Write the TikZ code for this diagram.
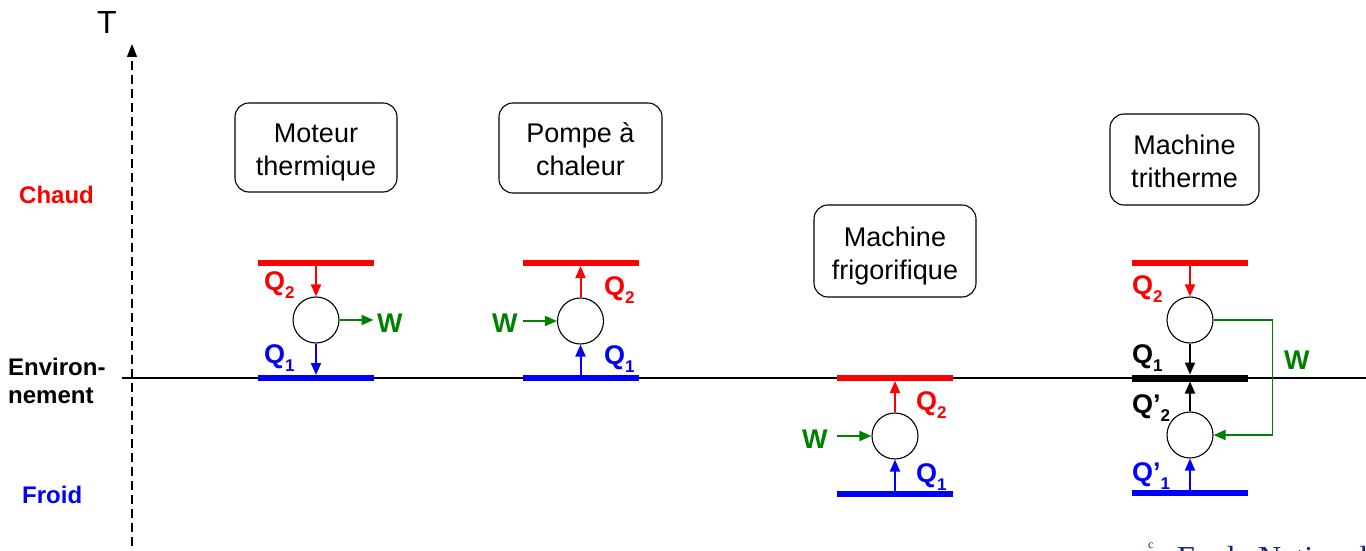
\documentclass[tikz,border=0pt]{standalone}
\usepackage{fontspec}
\setmainfont{Liberation Sans}
\newfontfamily\seriffont{Liberation Serif}
\usetikzlibrary{arrows.meta}

\definecolor{hot}{RGB}{255,0,0}
\definecolor{cold}{RGB}{0,0,255}
\definecolor{work}{RGB}{0,128,0}
\definecolor{credit}{RGB}{25,30,120}

% heat label with a lowered index, e.g. \Qlab{}{2} or \Qlab{'}{1}
\newcommand{\Qlab}[2]{Q#1\raisebox{-8pt}{\fontsize{17}{17}\selectfont #2}}

\tikzset{
  machine/.style={draw, line width=1.1pt, rounded corners=14pt, inner sep=0},
  title/.style={align=center, font=\fontsize{27}{33}\selectfont, inner sep=0},
  cycle/.style={draw, circle, line width=1.1pt, minimum size=46pt, inner sep=0},
  reservoir/.style={minimum width=116pt, minimum height=6pt, inner sep=0, outer sep=0},
  flow/.style={line width=2pt, -{Triangle[length=12pt,width=10pt]}},
  lab/.style={font=\bfseries\fontsize{24}{28}\selectfont, inner sep=0, anchor=base west},
  qlab/.style={lab, font=\bfseries\fontsize{27}{30}\selectfont},
}

\begin{document}
\begin{tikzpicture}[x=1pt,y=-1pt]
\useasboundingbox (0,0) rectangle (1366,551);

% temperature axis
\coordinate (axbot) at (132,560);
\coordinate (axtop) at (132,44);
\draw[line width=1.4pt, dash pattern=on 9pt off 5pt,
      -{Triangle[length=13pt,width=10pt]}] (axbot) -- (axtop);
\node[font=\fontsize{32}{32}\selectfont, inner sep=0] (T) at (107,22) {T};

% environment level
\coordinate (envL) at (122,378);
\coordinate (envR) at (1366,378);
\draw[line width=2pt] (envL) -- (envR);

% level names
\node[lab, text=hot] (chaud) at (19,203) {Chaud};
\node[lab] (env1) at (8,375) {Environ-};
\node[lab] (env2) at (8,403) {nement};
\node[lab, text=cold] (froid) at (22,503) {Froid};

% machine titles
\node[machine, minimum width=162pt, minimum height=89pt] (m1) at (316,147.5) {};
\node[machine, minimum width=163pt, minimum height=90pt] (m2) at (580.5,148) {};
\node[machine, minimum width=162pt, minimum height=92pt] (m3) at (895,251) {};
\node[machine, minimum width=149pt, minimum height=91pt] (m4) at (1184.5,159.5) {};
\node[title] (t1) at ([yshift=-5pt]m1.center) {Moteur\\thermique};
\node[title] (t2) at ([yshift=-1pt]m2.center) {Pompe à\\chaleur};
\node[title] (t3) at ([yshift=-5pt]m3.center) {Machine\\frigorifique};
\node[title] (t4) at ([yshift=-2pt]m4.center) {Machine\\tritherme};

% ---- heat engine
\node[reservoir, fill=hot]  (h1) at (316,263) {};
\node[reservoir, fill=cold] (k1) at (316,378) {};
\node[cycle] (c1) at (316,320) {};
\draw[flow, hot]  (h1.south) -- (c1.north);
\draw[flow, cold] (c1.south) -- (k1.north);
\draw[flow, work] (c1.east) -- ++(34,0);
\node[qlab, text=hot]  (q21) at (264,290) {\Qlab{}{2}};
\node[qlab, text=cold] (q11) at (264,363) {\Qlab{}{1}};
\node[qlab, text=work] (w1)  at (377,332) {W};

% ---- heat pump
\node[reservoir, fill=hot]  (h2) at (580.5,263) {};
\node[reservoir, fill=cold] (k2) at (580.5,378) {};
\node[cycle] (c2) at (580.5,321) {};
\draw[flow, hot]  (c2.north) -- (h2.south);
\draw[flow, cold] (k2.north) -- (c2.south);
\draw[flow, work] ([xshift=-34pt]c2.west) -- (c2.west);
\node[qlab, text=hot]  (q22) at (604,295) {\Qlab{}{2}};
\node[qlab, text=cold] (q12) at (604,364) {\Qlab{}{1}};
\node[qlab, text=work] (w2)  at (492,332) {W};

% ---- refrigerator
\node[reservoir, fill=hot]  (h3) at (895,378) {};
\node[reservoir, fill=cold] (k3) at (895,494) {};
\node[cycle] (c3) at (895,436) {};
\draw[flow, hot]  (c3.north) -- (h3.south);
\draw[flow, cold] (k3.north) -- (c3.south);
\draw[flow, work] ([xshift=-34pt]c3.west) -- (c3.west);
\node[qlab, text=hot]  (q23) at (916,410) {\Qlab{}{2}};
\node[qlab, text=cold] (q13) at (916,482) {\Qlab{}{1}};
\node[qlab, text=work] (w3)  at (802,448) {W};

% ---- three-source machine
\node[reservoir, fill=hot]   (h4) at (1190,263) {};
\node[reservoir, fill=black, minimum height=7pt] (e4) at (1190,378) {};
\node[reservoir, fill=cold]  (k4) at (1190,493) {};
\node[cycle] (c4a) at (1190,320) {};
\node[cycle] (c4b) at (1190,435) {};
\draw[flow, hot]   (h4.south) -- (c4a.north);
\draw[flow]        (c4a.south) -- (e4.north);
\draw[flow]        (c4b.north) -- (e4.south);
\draw[flow, cold]  (k4.north) -- (c4b.south);
\draw[flow, work, line width=1.8pt] (c4a.east) -- ++(59,0) |- (c4b.east);
\node[qlab, text=hot]  (q24)  at (1132,294) {\Qlab{}{2}};
\node[qlab]            (q14)  at (1132,363) {\Qlab{}{1}};
\node[qlab]            (qp24) at (1132,413) {\Qlab{’}{2}};
\node[qlab, text=cold] (qp14) at (1132,481) {\Qlab{’}{1}};
\node[qlab, text=work] (w4)   at (1284,369) {W};

% credit line running off the lower edge
\begin{scope}
  \clip (0,0) rectangle (1366,551);
  \node[anchor=base west, inner sep=0, text=credit,
        font=\seriffont\fontsize{12}{12}\selectfont] (cmark) at (1148,548) {c};
  \node[anchor=base west, inner sep=0, text=credit,
        font=\seriffont\fontsize{32}{32}\selectfont] (credit) at (1177,568) {Ecole Nationale};
\end{scope}
\end{tikzpicture}
\end{document}
